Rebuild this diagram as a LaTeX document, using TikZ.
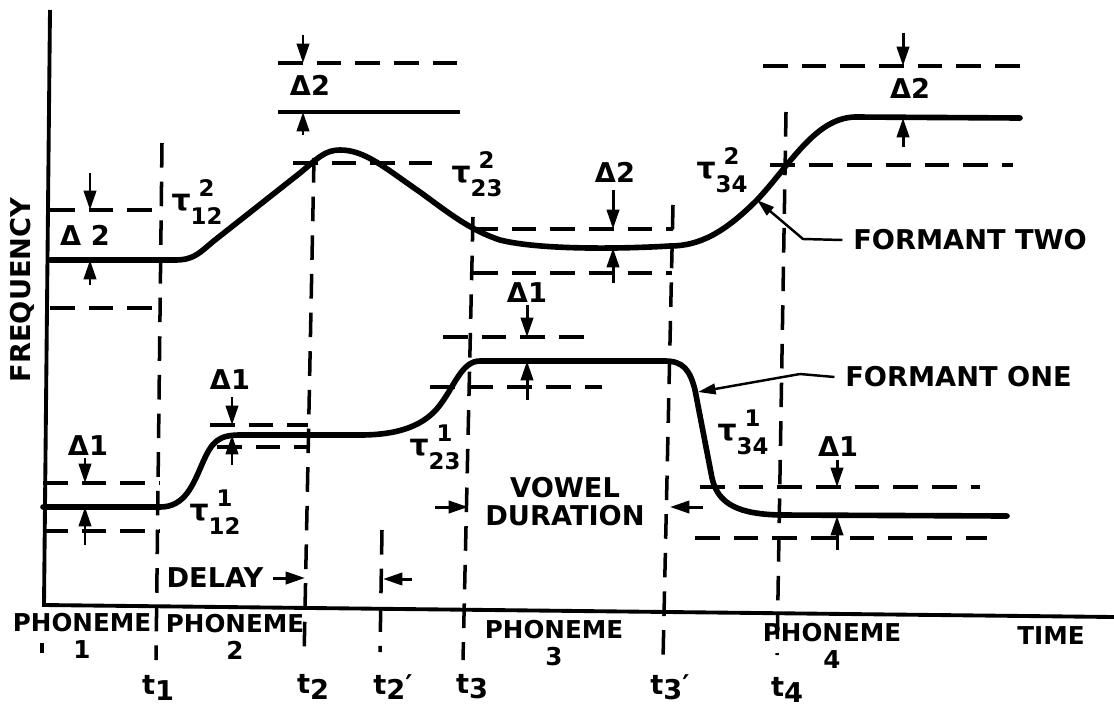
\documentclass[tikz,border=0pt]{standalone}
\usepackage{fontspec}
\setmainfont{DejaVu Sans}
\usetikzlibrary{arrows.meta}
\newcommand{\tauij}[2]{{\fontsize{17}{17}\selectfont τ}{\fontsize{13}{16}\selectfont\begin{tabular}[c]{@{}c@{}}#1\\#2\end{tabular}}}
\newcommand{\tsub}[1]{t\raisebox{-0.35ex}{#1}}

\begin{document}
\begin{tikzpicture}[x=0.02cm, y=-0.02cm,
  formant/.style={line width=3.2pt, line cap=round},
  guide/.style={line width=2pt, dash pattern=on 14pt off 8pt},
  axisline/.style={line width=2.2pt},
  dim/.style={line width=1.7pt, -{Triangle[length=11pt,width=7pt]}},
  leader/.style={line width=1.4pt, -{Triangle[length=10pt,width=6pt]}},
  lbl/.style={font=\bfseries\fontsize{15.5}{16}\selectfont, inner sep=0pt, align=center},
  small/.style={font=\bfseries\fontsize{14}{15}\selectfont, inner sep=0pt, align=center}]
\useasboundingbox (0,0) rectangle (1114,710);

% axes
\draw[axisline] (50,10) -- (44,605) -- (1114,617);
\draw[axisline] (42,643) -- (42,653);

% time marks
\foreach \xa/\ya/\xb/\yb in {162/143/156/660, 314/158/304/660, 382/530/380/652,
    473/217/463/660, 673/205/663/660, 786/112/777/655}
  \draw[guide] (\xa,\ya) -- (\xb,\yb);

% tolerance bands
\foreach \xa/\xb/\y in {50/160/210, 50/160/308, 278/467/63, 293/432/163,
    473/673/229, 473/672/273, 763/1020/66, 770/1013/165,
    43/160/483, 43/160/531, 210/308/425, 217/308/447,
    443/597/337, 430/602/387, 700/980/487, 695/987/538}
  \draw[guide] (\xa,\y) -- (\xb,\y);
\draw[line width=2pt] (278,112) -- (460,112);

\foreach \x/\ya/\yb/\yc/\yd in {90/173/210/285/260, 303/35/63/135/112,
    613/190/229/283/248, 903/33/66/147/118, 85/458/483/545/507,
    232/397/425/465/435, 527/305/337/400/361, 837/460/487/550/516}
{
  \draw[dim] (\x,\ya) -- (\x,\yb);
  \draw[dim] (\x,\yc) -- (\x,\yd);
}

% formants
\draw[formant] (50,260) -- (175,260) .. controls (195,260) and (200,252) .. (215,240)
  -- (300,173) .. controls (318,158) and (325,150) .. (340,150)
  .. controls (365,150) and (385,168) .. (420,192)
  .. controls (450,214) and (470,230) .. (500,240) .. controls (540,250) and (620,249) .. (670,246)
  .. controls (700,246) and (725,232) .. (757,200) .. controls (790,165) and (815,118) .. (855,117)
  -- (1020,118);
\draw[formant] (43,507) -- (160,507) .. controls (185,507) and (193,485) .. (203,462)
  .. controls (212,442) and (218,435) .. (240,435) -- (360,435)
  .. controls (400,435) and (425,425) .. (440,405) .. controls (455,385) and (462,361) .. (480,361)
  -- (665,361) .. controls (683,361) and (690,370) .. (695,390) -- (712,478)
  .. controls (718,505) and (740,514) .. (780,515) -- (1007,516);
\coordinate (f2pt) at (757,200);
\coordinate (f1pt) at (698,392);

\node[lbl, anchor=west] (ftwo) at (853,240) {FORMANT TWO};
\node[lbl, anchor=west] (fone) at (845,377) {FORMANT ONE};
\draw[leader] ([xshift=-6pt]ftwo.west) -- (803,239) -- (f2pt);
\draw[leader] ([xshift=-6pt]fone.west) -- (800,374) -- (f1pt);

\node[lbl, rotate=90] (freq) at (22,290) {FREQUENCY};
\node[lbl] (d2a) at (85,235) {Δ 2};
\node[lbl] (d2b) at (310,85) {Δ2};
\node[lbl] (d2c) at (615,172) {Δ2};
\node[lbl] (d2d) at (910,88) {Δ2};
\node[lbl] (d1a) at (88,446) {Δ1};
\node[lbl] (d1b) at (230,380) {Δ1};
\node[lbl] (d1c) at (527,293) {Δ1};
\node[lbl] (d1d) at (838,447) {Δ1};

\node[lbl] (tau12b) at (197,205) {\tauij{2}{12}};
\node[lbl] (tau23b) at (477,177) {\tauij{2}{23}};
\node[lbl] (tau34b) at (722,173) {\tauij{2}{34}};
\node[lbl] (tau12a) at (215,515) {\tauij{1}{12}};
\node[lbl] (tau23a) at (435,450) {\tauij{1}{23}};
\node[lbl] (tau34a) at (743,435) {\tauij{1}{34}};

\draw[dim] (273,578) -- (305,578);
\draw[dim] (412,579) -- (383,579);
\draw[dim] (435,507) -- (468,507);
\draw[dim] (703,507) -- (670,507);
\node[lbl] (delay) at (215,578) {DELAY};
\node[lbl] (vowel) at (565,502) {VOWEL\\DURATION};

\node[small] (ph1) at (82,636) {PHONEME\\1};
\node[small] (ph2) at (235,637) {PHONEME\\2};
\node[small] (ph3) at (554,643) {PHONEME\\3};
\node[small] (ph4) at (832,646) {PHONEME\\4};
\node[small] (time) at (1051,636) {TIME};

\node[lbl] (lt1) at (158,688) {\tsub{1}};
\node[lbl] (lt2) at (313,687) {\tsub{2}};
\node[lbl] (lt2p) at (393,687) {\tsub{2}′};
\node[lbl] (lt3) at (472,687) {\tsub{3}};
\node[lbl] (lt3p) at (670,687) {\tsub{3}′};
\node[lbl] (lt4) at (787,690) {\tsub{4}};
\end{tikzpicture}
\end{document}
